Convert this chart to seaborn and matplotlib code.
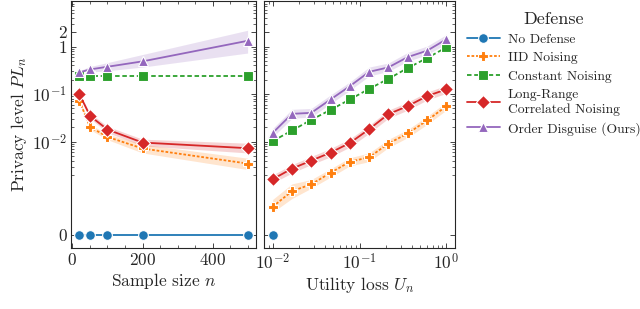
import numpy as np
import pandas as pd
import matplotlib
matplotlib.use("Agg")
import matplotlib.pyplot as plt
import seaborn as sns
from matplotlib.ticker import AutoMinorLocator, SymmetricalLogLocator, FixedLocator, FixedFormatter

# --- data ---
defenses = ["No Defense", "IID Noising", "Constant Noising",
            "Long-Range\nCorrelated Noising", "Order Disguise (Ours)"]

# left panel: privacy level vs sample size
sample_n = [20, 50, 100, 200, 500]
left_none = [0, 0, 0, 0, 0]
left_iid = [0.072, 0.0205, 0.0126, 0.0072, 0.00347]
left_iid_lo = [0.068, 0.018, 0.011, 0.0058, 0.0026]
left_iid_hi = [0.077, 0.023, 0.0145, 0.0088, 0.0045]
left_const = [0.243, 0.243, 0.243, 0.243, 0.243]
left_lrc = [0.1, 0.0349, 0.018, 0.0096, 0.0073]
left_lrc_lo = [0.094, 0.031, 0.0155, 0.0082, 0.0058]
left_lrc_hi = [0.106, 0.040, 0.021, 0.0113, 0.0093]
left_od = [0.286, 0.33, 0.376, 0.488, 1.32]
left_od_lo = [0.27, 0.29, 0.31, 0.37, 0.73]
left_od_hi = [0.31, 0.38, 0.46, 0.68, 2.2]

# right panel: privacy level vs utility loss
utility = [0.01, 0.0167, 0.0278, 0.0464, 0.0774, 0.129, 0.215, 0.359, 0.599, 1.0]
right_none_u = [0.01]
right_none = [0]
right_iid = [0.00062, 0.00096, 0.00127, 0.00222, 0.00379, 0.0047, 0.00916, 0.0149, 0.0279, 0.0558]
right_iid_lo = [0.0005, 0.0008, 0.00105, 0.0018, 0.0031, 0.0038, 0.0075, 0.0122, 0.023, 0.046]
right_iid_hi = [0.00078, 0.0013, 0.0016, 0.0027, 0.0046, 0.0058, 0.0112, 0.018, 0.034, 0.068]
right_const = [0.0103, 0.0172, 0.0288, 0.0467, 0.0773, 0.129, 0.21, 0.353, 0.573, 0.96]
right_lrc = [0.00163, 0.00272, 0.0040, 0.0059, 0.0094, 0.0183, 0.038, 0.056, 0.091, 0.126]
right_lrc_lo = [0.00135, 0.0022, 0.0033, 0.0048, 0.0077, 0.015, 0.031, 0.046, 0.075, 0.104]
right_lrc_hi = [0.002, 0.0033, 0.0049, 0.0072, 0.0115, 0.022, 0.046, 0.068, 0.11, 0.153]
right_od = [0.0153, 0.0385, 0.0404, 0.0773, 0.147, 0.294, 0.365, 0.601, 0.817, 1.42]
right_od_lo = [0.0125, 0.031, 0.033, 0.063, 0.12, 0.24, 0.30, 0.49, 0.67, 1.15]
right_od_hi = [0.019, 0.048, 0.05, 0.096, 0.18, 0.37, 0.45, 0.75, 1.02, 1.78]

y_ticks = [0, 0.01, 0.1, 1, 2]
y_ticklabels = ["0", "$10^{-2}$", "$10^{-1}$", "1", "2"]

# --- style ---
sns.set_style("ticks")
plt.rcParams["font.family"] = ["serif"]
plt.rcParams["font.serif"] = ["cmr10", "DejaVu Serif"]
plt.rcParams["mathtext.fontset"] = "cm"
plt.rcParams["axes.formatter.use_mathtext"] = True
plt.rcParams["axes.unicode_minus"] = False
plt.rcParams["xtick.direction"] = "in"
plt.rcParams["ytick.direction"] = "in"
plt.rcParams["xtick.top"] = True
plt.rcParams["ytick.right"] = True

colors = sns.color_palette("tab10")
styles = {
    "No Defense": dict(color=colors[0], marker="o", dashes=False, ms=7),
    "IID Noising": dict(color=colors[1], marker="P", dashes=(1.5, 1.0), ms=6.5),
    "Constant Noising": dict(color=colors[2], marker="s", dashes=(2.5, 1.5), ms=7.5),
    "Long-Range\nCorrelated Noising": dict(color=colors[3], marker="D", dashes=False, ms=7.5),
    "Order Disguise (Ours)": dict(color=colors[4], marker="^", dashes=False, ms=7),
}

fig = plt.figure(figsize=(6.4, 3.09), dpi=100)
ax1 = fig.add_axes([0.111, 0.197, 0.289, 0.8])
ax2 = fig.add_axes([0.4125, 0.197, 0.2985, 0.8], sharey=ax1)


def draw(ax, x, y, name, lo=None, hi=None):
    st = styles[name]
    sns.lineplot(x=x, y=y, ax=ax, color=st["color"], marker=st["marker"],
                 markersize=st["ms"], markeredgecolor="white", markeredgewidth=0.8,
                 linewidth=1.3, label=name, legend=False)
    ln = ax.get_lines()[-1]
    if st["dashes"]:
        ln.set_dashes(st["dashes"])
    if lo is not None:
        ax.fill_between(x, lo, hi, color=st["color"], alpha=0.2, linewidth=0)
    return ln


draw(ax1, sample_n, left_none, "No Defense")
draw(ax1, sample_n, left_iid, "IID Noising", left_iid_lo, left_iid_hi)
draw(ax1, sample_n, left_const, "Constant Noising")
draw(ax1, sample_n, left_lrc, "Long-Range\nCorrelated Noising", left_lrc_lo, left_lrc_hi)
draw(ax1, sample_n, left_od, "Order Disguise (Ours)", left_od_lo, left_od_hi)

handles = []
handles.append(draw(ax2, right_none_u, right_none, "No Defense"))
handles.append(draw(ax2, utility, right_iid, "IID Noising", right_iid_lo, right_iid_hi))
handles.append(draw(ax2, utility, right_const, "Constant Noising"))
handles.append(draw(ax2, utility, right_lrc, "Long-Range\nCorrelated Noising", right_lrc_lo, right_lrc_hi))
handles.append(draw(ax2, utility, right_od, "Order Disguise (Ours)", right_od_lo, right_od_hi))

ax2.set_xscale("log")
for ax in (ax1, ax2):
    ax.set_yscale("symlog", linthresh=1e-3, linscale=0.87)
ax1.set_ylim(-2.8e-4, 9.1)
ax1.yaxis.set_major_locator(FixedLocator(y_ticks))
ax1.yaxis.set_major_formatter(FixedFormatter(y_ticklabels))
ax1.yaxis.set_minor_locator(SymmetricalLogLocator(base=10, linthresh=1e-3, subs=np.arange(2, 10)))
ax1.xaxis.set_minor_locator(AutoMinorLocator(4))
ax1.set_xticks([0, 200, 400])
ax2.tick_params(axis="y", labelleft=False)

for ax in (ax1, ax2):
    ax.tick_params(which="major", length=3.5, width=0.6, labelsize=12.5, pad=3)
    ax.tick_params(which="minor", length=2, width=0.5)
    for sp in ax.spines.values():
        sp.set_linewidth(0.8)

ax1.set_xlabel("Sample size $n$", fontsize=12.5, labelpad=2)
ax1.set_ylabel("Privacy level $PL_n$", fontsize=12.5, labelpad=2)
ax2.set_xlabel("Utility loss $U_n$", fontsize=12.5, labelpad=2)
ax2.set_ylabel("")

leg = ax2.legend(handles=handles, labels=defenses, title="Defense",
                 loc="upper left", bbox_to_anchor=(1.02, 0.99), frameon=False,
                 fontsize=9.8, title_fontsize=13, handlelength=2.4,
                 labelspacing=0.45, borderaxespad=0.2, handletextpad=0.6)

fig.savefig("out.png", dpi=100)
